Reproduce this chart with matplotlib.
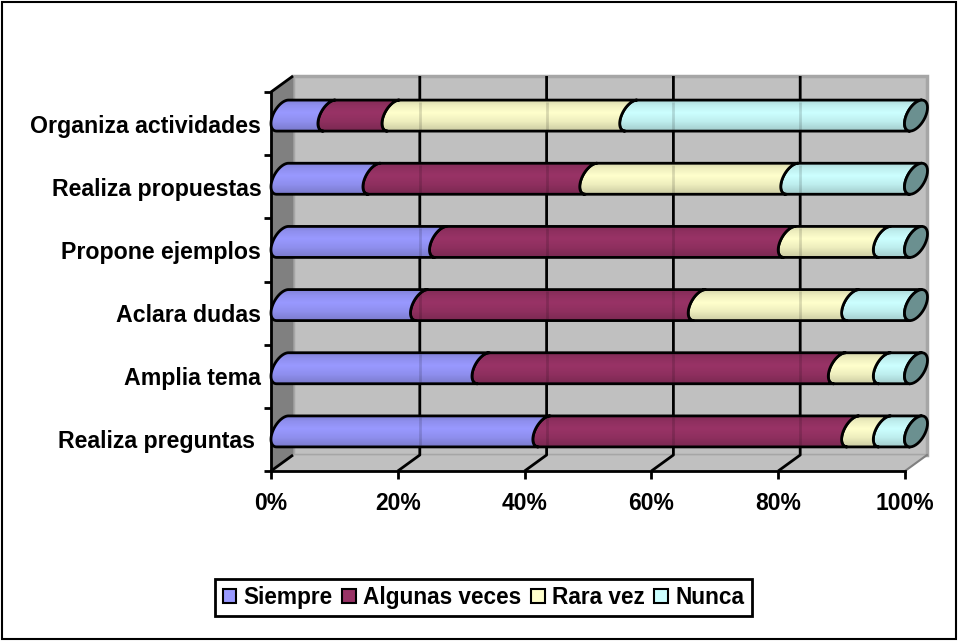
import numpy as np
import matplotlib
matplotlib.use("Agg")
import matplotlib.pyplot as plt
from matplotlib.patches import Polygon, Patch, Rectangle

categories = ["Realiza preguntas ", "Amplia tema", "Aclara dudas", "Propone ejemplos",
              "Realiza propuestas", "Organiza actividades"]
series_names = ["Siempre", "Algunas veces", "Rara vez", "Nunca"]
siempre = [41.3, 31.7, 22.0, 25.0, 14.5, 7.4]
algunas = [48.7, 56.2, 43.8, 55.0, 34.2, 10.1]
rara = [5.0, 7.1, 24.2, 15.0, 31.7, 37.5]
nunca = [5.0, 5.0, 10.0, 5.0, 19.6, 45.0]
x_ticks = [0, 20, 40, 60, 80, 100]
x_labels = ["0%", "20%", "40%", "60%", "80%", "100%"]
colors = ["#9999FF", "#993366", "#FFFFCC", "#CCFFFF"]
cap_color = "#6B9090"

W, H = 958, 641
L, R, T, B = 271, 905, 92, 471      # plot box, pixels
DX, DY = 22, 16                     # 3-D depth, pixels
plt.rcParams["font.family"] = ["Liberation Sans", "DejaVu Sans"]
plt.rcParams["font.weight"] = "bold"

fig = plt.figure(figsize=(W / 100, H / 100), dpi=100)
ax = fig.add_axes([L / W, 1 - B / H, (R - L) / W, (B - T) / H])
ax.patch.set_visible(False)
px = 100 / (R - L)
py = len(categories) / (B - T)
dx, dy = DX * px, DY * py

fig.add_artist(Rectangle((1.5 / W, 1 - 638.5 / H), 954.5 / W, 636.5 / H,
                         transform=fig.transFigure, fc="white", ec="black", lw=1.5, zorder=-1))

n = len(categories)
wkw = dict(clip_on=False, zorder=1)
ax.add_patch(Rectangle((dx, dy), 100, n, fc="#C0C0C0", ec="#A6A6A6", lw=2.5, **wkw))
ax.add_patch(Polygon([(0, 0), (dx, dy), (dx, n + dy), (0, n)], fc="#808080", ec="#808080", lw=0.5, **wkw))
ax.add_patch(Polygon([(0, 0), (dx, dy), (100 + dx, dy), (100, 0)], fc="#C0C0C0", ec="#A6A6A6", lw=0.5, **wkw))

lkw = dict(color="black", lw=2, clip_on=False, zorder=2, solid_capstyle="butt")
for t in x_ticks[1:-1]:
    ax.plot([t + dx, t + dx, t], [n + dy, dy, 0], **lkw)
ax.plot([0, dx], [n, n + dy], **lkw)
ax.plot([0, dx], [0, dy], **lkw)
ax.plot([100, 100 + dx], [0, dy], color="#808080", lw=1.5, clip_on=False, zorder=2)

# Tilted cross-section of the cylinder
RX, RY, PHI = 11.5 * px, 15.5 * py, np.radians(31)


def arc(xc, yc, t0, t1):
    t = np.linspace(t0, t1, 40)
    return np.column_stack([xc + RX * np.cos(t), yc + RY * np.sin(t + PHI)])


def shade(hex_color):
    rgb = np.array(matplotlib.colors.to_rgb(hex_color))
    f = np.interp(np.linspace(0, 1, 31),
                  [0, 0.15, 0.4, 0.7, 1], [0.85, 0.93, 1.0, 0.93, 0.8])
    return (rgb * f[:, None])[:, None, :]


TOP, BOT = np.pi / 2 - PHI, 3 * np.pi / 2 - PHI
data = np.array([siempre, algunas, rara, nunca])
lefts = np.vstack([np.zeros(n), np.cumsum(data, axis=0)[:-1]])
for i in range(n):
    yc = i + 0.5 + dy / 2
    for s in range(3, -1, -1):
        x0 = lefts[s, i] + dx / 2 + RX - 11 * px
        x1 = x0 + data[s, i]
        if s == 3:
            x1 = 100 + dx / 2
        left = arc(x0, yc, TOP, BOT)
        right = arc(x1, yc, TOP, BOT)
        outline = np.vstack([left, right[::-1]])
        poly = Polygon(outline, fc="none", ec="black", lw=2, joinstyle="round", clip_on=False, zorder=5 + 4 - s)
        ax.add_patch(poly)
        im = ax.imshow(shade(colors[s]), extent=[x0 - RX, x1 + RX, yc - RY, yc + RY], aspect="auto",
                       interpolation="bilinear", origin="upper", zorder=5 + 4 - s - 0.5)
        im.set_clip_box(fig.bbox)
        clip = Polygon(outline, transform=ax.transData)
        im.set_clip_path(clip)
        if s == 3:
            cap = arc(x1, yc, 0, 2 * np.pi)
            ax.add_patch(Polygon(cap, fc=cap_color, ec="black", lw=2, clip_on=False, zorder=10))
    # gridlines show faintly through the translucent bars
    for t in x_ticks[1:-1]:
        ax.plot([t + dx, t + dx], [yc - RY * 0.9, yc + RY * 0.9], color="black", lw=2, alpha=0.14,
                clip_on=False, zorder=11, solid_capstyle="butt")

ax.set_xlim(0, 100)
ax.set_ylim(0, n)
for sp in ("top", "right"):
    ax.spines[sp].set_visible(False)
for sp in ("left", "bottom"):
    ax.spines[sp].set_linewidth(2)
    ax.spines[sp].set_zorder(3)
ax.set_xticks(x_ticks, x_labels, fontsize=16.5, fontweight="bold")
ax.tick_params(axis="x", length=6, width=2, pad=9)
ax.set_yticks(range(n + 1), [""] * (n + 1))
ax.tick_params(axis="y", which="major", length=5, width=2)
ax.set_yticks(np.arange(n) + 0.5, categories, minor=True, fontsize=16.7, fontweight="bold")
ax.tick_params(axis="y", which="minor", length=0, pad=7)

handles = [Patch(fc=c, ec="black", lw=1.5, label=l) for c, l in zip(colors, series_names)]
leg = fig.legend(handles=handles, ncol=4, loc="center", bbox_to_anchor=(483.5 / W, 1 - 597.5 / H),
                 prop=dict(size=16.3, weight="bold"), frameon=True, fancybox=False,
                 edgecolor="black", framealpha=1, handlelength=0.6, handleheight=0.6,
                 handletextpad=0.33, columnspacing=0.42, borderpad=0.33, borderaxespad=0)
leg.get_frame().set_linewidth(2)

fig.savefig("out.png", dpi=100)
